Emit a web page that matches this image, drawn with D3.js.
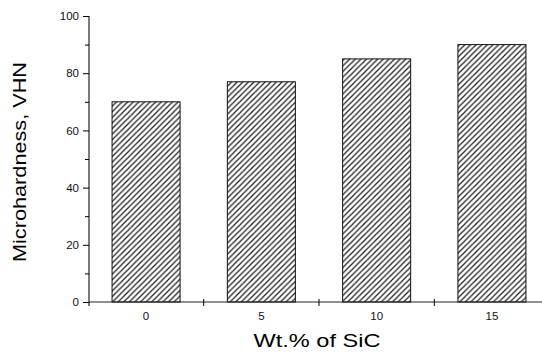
<!DOCTYPE html>
<html>
<head>
<meta charset="utf-8">
<script src="https://d3js.org/d3.v7.min.js"></script>
<style>
  body { margin: 0; background: #fff; }
  svg { display: block; font-family: "Liberation Sans", Arial, sans-serif; }
</style>
</head>
<body>
<div id="chartHere"></div>
<script>
// data
var sicWt = ["0", "5", "10", "15"];
var hardness = [70, 77, 85, 90];
var yTicks = [0, 20, 40, 60, 80, 100];
var yMinor = [10, 30, 50, 70, 90];

var dims = {width: 542, height: 357};
var margin = {top: 16, right: -7, bottom: 55, left: 89};

var svg = d3.select("#chartHere").append("svg")
    .attr("width", dims.width)
    .attr("height", dims.height);

// hatch fill
var pat = svg.append("defs").append("pattern")
    .attr("id", "hatch")
    .attr("patternUnits", "userSpaceOnUse")
    .attr("width", 5.6).attr("height", 5.6);
pat.append("rect").attr("width", 5.6).attr("height", 5.6).attr("fill", "#fff");
pat.append("path")
    .attr("d", "M-1.4,1.4 l2.8,-2.8 M0,5.6 l5.6,-5.6 M4.2,7 l2.8,-2.8")
    .attr("stroke", "#1a1a1a").attr("stroke-width", 1.2);

var x = d3.scaleBand()
    .domain(sicWt)
    .range([margin.left, dims.width - margin.right])
    .paddingInner(0.41).paddingOuter(0.2);

var y = d3.scaleLinear()
    .domain([0, 100])
    .range([dims.height - margin.bottom, margin.top]);

var y0 = y(0);

// bars
svg.selectAll("rect.bar")
    .data(hardness).enter().append("rect")
    .attr("class", "bar")
    .attr("x", function (d, i) { return x(sicWt[i]); })
    .attr("width", x.bandwidth())
    .attr("y", function (d) { return y(d); })
    .attr("height", function (d) { return y0 - y(d); })
    .attr("fill", "url(#hatch)")
    .attr("stroke", "#111")
    .attr("stroke-width", 1);

// y axis
var yAxis = svg.append("g")
    .attr("transform", "translate(" + margin.left + ",0)")
    .call(d3.axisLeft(y).tickValues(yTicks).tickSize(6).tickPadding(4));
svg.append("g")
    .attr("transform", "translate(" + margin.left + ",0)")
    .call(d3.axisLeft(y).tickValues(yMinor).tickSize(4).tickFormat(""))
    .select(".domain").remove();
yAxis.select(".domain").attr("d", "M0," + (margin.top) + "V" + (y0 + 4));

// x axis: category labels under bars, ticks between bars
var xAxis = svg.append("g")
    .attr("transform", "translate(0," + y0 + ")")
    .call(d3.axisBottom(x).tickSize(0).tickPadding(10));
xAxis.select(".domain").attr("d", "M" + margin.left + ",0H" + dims.width);

var step = x.step();
svg.selectAll("line.sep")
    .data(sicWt.slice(1)).enter().append("line")
    .attr("class", "sep")
    .attr("x1", function (d) { return x(d) - (step - x.bandwidth()) / 2; })
    .attr("x2", function (d) { return x(d) - (step - x.bandwidth()) / 2; })
    .attr("y1", y0 - 3).attr("y2", y0 + 4)
    .attr("stroke", "#000");

svg.selectAll(".tick text").attr("font-size", 11.5).attr("fill", "#111")
    .attr("font-family", "Liberation Sans, Arial, sans-serif");
svg.selectAll(".domain").attr("stroke", "#222").attr("stroke-width", 1.2);

// axis titles (the original is stretched sideways)
svg.append("text")
    .attr("x", 317).attr("y", 347)
    .attr("text-anchor", "middle")
    .attr("font-size", 18)
    .attr("textLength", 127)
    .attr("lengthAdjust", "spacingAndGlyphs")
    .text("Wt.% of SiC");

svg.append("text")
    .attr("transform", "translate(26,162) rotate(-90)")
    .attr("text-anchor", "middle")
    .attr("font-size", 18)
    .attr("textLength", 200)
    .attr("lengthAdjust", "spacingAndGlyphs")
    .text("Microhardness, VHN");
</script>
</body>
</html>
